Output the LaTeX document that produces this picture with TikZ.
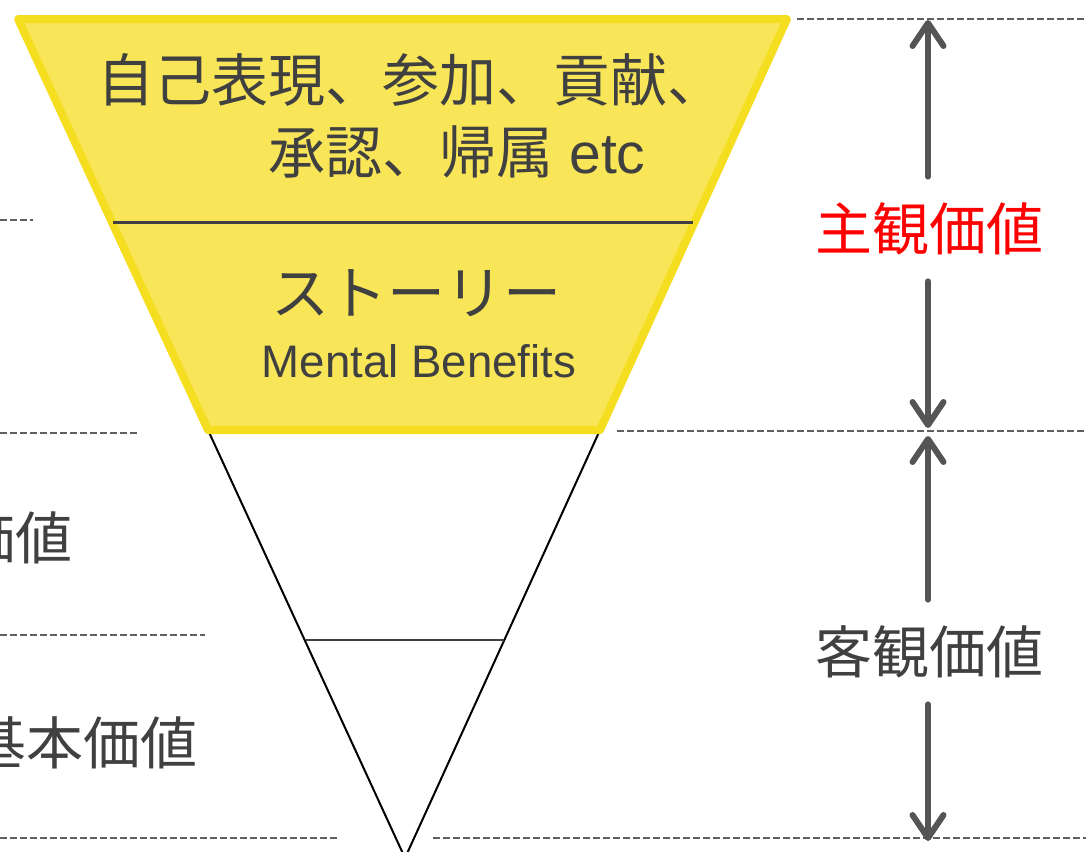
\documentclass[tikz,border=0pt]{standalone}
\usepackage{fontspec}
\newfontfamily\jpfont{Noto Sans CJK JP}
\newfontfamily\lafont{Liberation Sans}
\usepackage{tikz}
\usetikzlibrary{arrows.meta, calc}
\definecolor{txtgray}{RGB}{64,64,64}
\definecolor{arrgray}{RGB}{85,85,85}
\definecolor{dashgray}{RGB}{95,95,95}
\definecolor{fillyellow}{RGB}{248,230,88}
\definecolor{edgeyellow}{RGB}{245,221,32}
\definecolor{subjred}{RGB}{255,0,0}

\begin{document}
\begin{tikzpicture}[x=0.5pt, y=-0.5pt,
  guide/.style={dash pattern=on 3.5pt off 1.5pt, line width=1pt, draw=dashgray},
  arr/.style={-{Straight Barb[length=11.5pt, width=15.5pt, round]}, line width=3pt, draw=arrgray, line cap=round},
  jp/.style={font=\jpfont\fontsize{28.5pt}{34pt}\selectfont, text=txtgray, inner sep=0pt},
  side/.style={jp, minimum height=52pt}]
\useasboundingbox (0,0) rectangle (1086,851);
% funnel
\draw[line width=1pt] (208,430)--(405,858)--(600,430);
\draw[line width=0.7pt, draw=txtgray] (306,640)--(504,640);
\filldraw[fill=fillyellow, draw=edgeyellow, line width=4pt, line join=round]
(18,19)--(787,19)--(600,430)--(208,430)--cycle;
\draw[line width=1.5pt, draw=txtgray] (113,222)--(693,222);
% guide lines
\foreach \y/\xa/\xb in {19/797/1086, 220/0/33, 433/0/137, 431/617/1086, 635/0/205, 838/0/340, 838/433/1086}
  \draw[guide] (\xa,\y)--(\xb,\y);
% texts in the funnel
\node[jp] (self) at (411,80) {自己表現、参加、貢献、};
\node[jp] (belong) at (457,152) {承認、帰属{\lafont\ etc}};
\node[jp, font=\jpfont\fontsize{29pt}{34pt}\selectfont] (story) at (416,293) {ストーリー};
\node[jp, font=\lafont\fontsize{22.8pt}{27pt}\selectfont] (mental) at (419,361) {Mental Benefits};
% texts on the left
\node[side, anchor=east] (leftval) at (73,538) {価値};
\node[side, anchor=east] (basic) at (198,743) {基本価値};
% scale on the right
\coordinate (t0) at (928,20);
\coordinate (t1) at (928,428);
\coordinate (t2) at (928,436);
\coordinate (t3) at (928,841);
\node[side, text=subjred] (subj) at (929,229) {主観価値};
\node[side] (obj) at (929,652) {客観価値};
\draw[arr] (subj.north -| t0)--(t0);
\draw[arr] (subj.south -| t1)--(t1);
\draw[arr] (obj.north -| t2)--(t2);
\draw[arr] (obj.south -| t3)--(t3);
\end{tikzpicture}
\end{document}
